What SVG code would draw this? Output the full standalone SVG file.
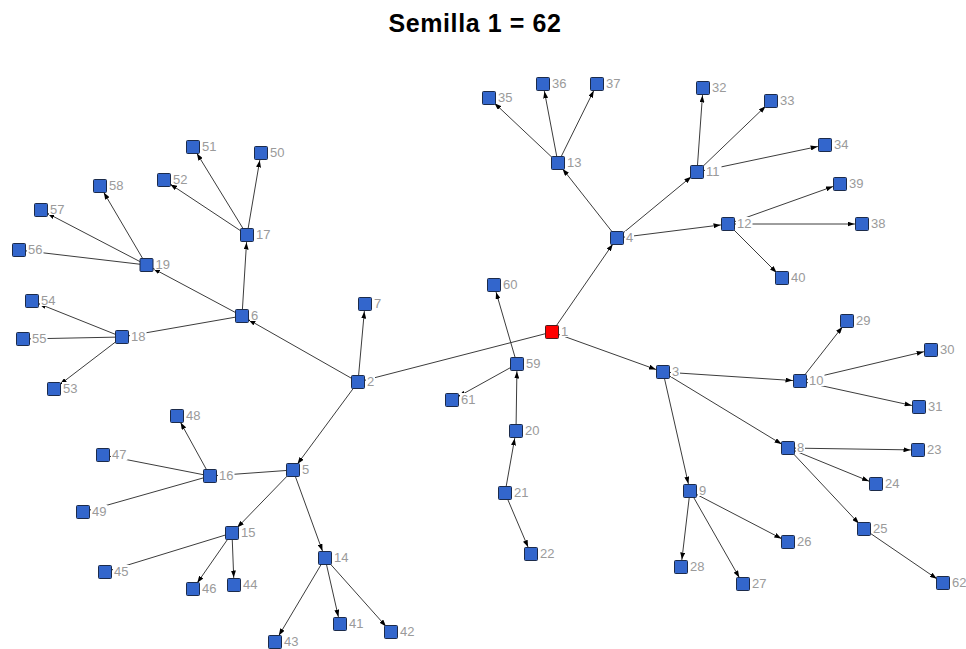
<svg xmlns="http://www.w3.org/2000/svg" width="966" height="649" viewBox="0 0 966 649">
<style>
  .title { font-family: "Liberation Sans", Arial, sans-serif; font-size: 25px; font-weight: bold; fill: #000; letter-spacing: 0.6px; }
  .edge { stroke: #3c3c3c; stroke-width: 1; fill: none; marker-end: url(#arrow); }
  .node rect.box { fill: #3366cc; stroke: #1c2b4a; stroke-width: 1; }
  .node.root rect.box { fill: #ff0000; stroke: #4a1c1c; }
  .node rect.lbg { fill: #ffffff; stroke: none; }
  .node text { font-family: "Liberation Sans", Arial, sans-serif; font-size: 13px; fill: #9a9a9a; }
</style>
<defs>
  <marker id="arrow" markerUnits="userSpaceOnUse" markerWidth="7" markerHeight="5" refX="14.5" refY="2.5" orient="auto">
    <path d="M0,0 L7,2.5 L0,5 z" fill="#000"/>
  </marker>
</defs>
<rect width="966" height="649" fill="#ffffff"/>
<text class="title" x="475" y="31.5" text-anchor="middle">Semilla 1 = 62</text>

<g id="edges">
  <line class="edge" x1="552" y1="332" x2="617" y2="238"/>
  <line class="edge" x1="552" y1="332" x2="663" y2="372"/>
  <line class="edge" x1="552" y1="332" x2="358" y2="382"/>
  <line class="edge" x1="358" y1="382" x2="242" y2="316"/>
  <line class="edge" x1="358" y1="382" x2="365" y2="304"/>
  <line class="edge" x1="358" y1="382" x2="293" y2="470"/>
  <line class="edge" x1="517" y1="364" x2="494" y2="285"/>
  <line class="edge" x1="517" y1="364" x2="452" y2="400"/>
  <line class="edge" x1="516" y1="431" x2="517" y2="364"/>
  <line class="edge" x1="505" y1="493" x2="516" y2="431"/>
  <line class="edge" x1="505" y1="493" x2="531" y2="554"/>
  <line class="edge" x1="617" y1="238" x2="558" y2="163"/>
  <line class="edge" x1="617" y1="238" x2="697" y2="172"/>
  <line class="edge" x1="617" y1="238" x2="728" y2="224"/>
  <line class="edge" x1="558" y1="163" x2="489" y2="98"/>
  <line class="edge" x1="558" y1="163" x2="543" y2="84"/>
  <line class="edge" x1="558" y1="163" x2="597" y2="84"/>
  <line class="edge" x1="697" y1="172" x2="703" y2="88"/>
  <line class="edge" x1="697" y1="172" x2="771" y2="101"/>
  <line class="edge" x1="697" y1="172" x2="825" y2="145"/>
  <line class="edge" x1="728" y1="224" x2="840" y2="184"/>
  <line class="edge" x1="728" y1="224" x2="862" y2="224"/>
  <line class="edge" x1="728" y1="224" x2="782" y2="278"/>
  <line class="edge" x1="663" y1="372" x2="800" y2="381"/>
  <line class="edge" x1="663" y1="372" x2="788" y2="448"/>
  <line class="edge" x1="663" y1="372" x2="690" y2="491"/>
  <line class="edge" x1="800" y1="381" x2="847" y2="321"/>
  <line class="edge" x1="800" y1="381" x2="931" y2="350"/>
  <line class="edge" x1="800" y1="381" x2="919" y2="407"/>
  <line class="edge" x1="788" y1="448" x2="918" y2="450"/>
  <line class="edge" x1="788" y1="448" x2="876" y2="484"/>
  <line class="edge" x1="788" y1="448" x2="864" y2="529"/>
  <line class="edge" x1="864" y1="529" x2="943" y2="583"/>
  <line class="edge" x1="690" y1="491" x2="788" y2="542"/>
  <line class="edge" x1="690" y1="491" x2="743" y2="584"/>
  <line class="edge" x1="690" y1="491" x2="681" y2="567"/>
  <line class="edge" x1="242" y1="316" x2="247" y2="235"/>
  <line class="edge" x1="242" y1="316" x2="146.5" y2="265"/>
  <line class="edge" x1="242" y1="316" x2="122" y2="337"/>
  <line class="edge" x1="247" y1="235" x2="261" y2="153"/>
  <line class="edge" x1="247" y1="235" x2="193" y2="147"/>
  <line class="edge" x1="247" y1="235" x2="164" y2="180"/>
  <line class="edge" x1="146.5" y1="265" x2="41" y2="210"/>
  <line class="edge" x1="146.5" y1="265" x2="100" y2="186"/>
  <line class="edge" x1="146.5" y1="265" x2="19" y2="250"/>
  <line class="edge" x1="122" y1="337" x2="32" y2="301"/>
  <line class="edge" x1="122" y1="337" x2="23" y2="339"/>
  <line class="edge" x1="122" y1="337" x2="54" y2="389"/>
  <line class="edge" x1="293" y1="470" x2="210" y2="476"/>
  <line class="edge" x1="293" y1="470" x2="232" y2="533"/>
  <line class="edge" x1="293" y1="470" x2="325" y2="558"/>
  <line class="edge" x1="210" y1="476" x2="177" y2="416"/>
  <line class="edge" x1="210" y1="476" x2="103" y2="455"/>
  <line class="edge" x1="210" y1="476" x2="83" y2="512"/>
  <line class="edge" x1="232" y1="533" x2="105" y2="572"/>
  <line class="edge" x1="232" y1="533" x2="193" y2="589"/>
  <line class="edge" x1="232" y1="533" x2="234" y2="585"/>
  <line class="edge" x1="325" y1="558" x2="275" y2="642"/>
  <line class="edge" x1="325" y1="558" x2="340" y2="624"/>
  <line class="edge" x1="325" y1="558" x2="391" y2="632"/>
</g>

<!-- each node: square marker, white label plate, number -->
<g id="n1" class="node root" transform="translate(552,332)"><rect class="box" x="-6.5" y="-6.5" width="13" height="13" rx="1"/><rect class="lbg" x="8" y="-7" width="9" height="12"/><text x="9" y="3.5">1</text></g>
<g id="n2" class="node" transform="translate(358,382)"><rect class="box" x="-6.5" y="-6.5" width="13" height="13" rx="1"/><rect class="lbg" x="8" y="-7" width="9" height="12"/><text x="9" y="3.5">2</text></g>
<g id="n3" class="node" transform="translate(663,372)"><rect class="box" x="-6.5" y="-6.5" width="13" height="13" rx="1"/><rect class="lbg" x="8" y="-7" width="9" height="12"/><text x="9" y="3.5">3</text></g>
<g id="n4" class="node" transform="translate(617,238)"><rect class="box" x="-6.5" y="-6.5" width="13" height="13" rx="1"/><rect class="lbg" x="8" y="-7" width="9" height="12"/><text x="9" y="3.5">4</text></g>
<g id="n5" class="node" transform="translate(293,470)"><rect class="box" x="-6.5" y="-6.5" width="13" height="13" rx="1"/><rect class="lbg" x="8" y="-7" width="9" height="12"/><text x="9" y="3.5">5</text></g>
<g id="n6" class="node" transform="translate(242,316)"><rect class="box" x="-6.5" y="-6.5" width="13" height="13" rx="1"/><rect class="lbg" x="8" y="-7" width="9" height="12"/><text x="9" y="3.5">6</text></g>
<g id="n7" class="node" transform="translate(365,304)"><rect class="box" x="-6.5" y="-6.5" width="13" height="13" rx="1"/><rect class="lbg" x="8" y="-7" width="9" height="12"/><text x="9" y="3.5">7</text></g>
<g id="n8" class="node" transform="translate(788,448)"><rect class="box" x="-6.5" y="-6.5" width="13" height="13" rx="1"/><rect class="lbg" x="8" y="-7" width="9" height="12"/><text x="9" y="3.5">8</text></g>
<g id="n9" class="node" transform="translate(690,491)"><rect class="box" x="-6.5" y="-6.5" width="13" height="13" rx="1"/><rect class="lbg" x="8" y="-7" width="9" height="12"/><text x="9" y="3.5">9</text></g>
<g id="n10" class="node" transform="translate(800,381)"><rect class="box" x="-6.5" y="-6.5" width="13" height="13" rx="1"/><rect class="lbg" x="8" y="-7" width="16.5" height="12"/><text x="9" y="3.5">10</text></g>
<g id="n11" class="node" transform="translate(697,172)"><rect class="box" x="-6.5" y="-6.5" width="13" height="13" rx="1"/><rect class="lbg" x="8" y="-7" width="16.5" height="12"/><text x="9" y="3.5">11</text></g>
<g id="n12" class="node" transform="translate(728,224)"><rect class="box" x="-6.5" y="-6.5" width="13" height="13" rx="1"/><rect class="lbg" x="8" y="-7" width="16.5" height="12"/><text x="9" y="3.5">12</text></g>
<g id="n13" class="node" transform="translate(558,163)"><rect class="box" x="-6.5" y="-6.5" width="13" height="13" rx="1"/><rect class="lbg" x="8" y="-7" width="16.5" height="12"/><text x="9" y="3.5">13</text></g>
<g id="n14" class="node" transform="translate(325,558)"><rect class="box" x="-6.5" y="-6.5" width="13" height="13" rx="1"/><rect class="lbg" x="8" y="-7" width="16.5" height="12"/><text x="9" y="3.5">14</text></g>
<g id="n15" class="node" transform="translate(232,533)"><rect class="box" x="-6.5" y="-6.5" width="13" height="13" rx="1"/><rect class="lbg" x="8" y="-7" width="16.5" height="12"/><text x="9" y="3.5">15</text></g>
<g id="n16" class="node" transform="translate(210,476)"><rect class="box" x="-6.5" y="-6.5" width="13" height="13" rx="1"/><rect class="lbg" x="8" y="-7" width="16.5" height="12"/><text x="9" y="3.5">16</text></g>
<g id="n17" class="node" transform="translate(247,235)"><rect class="box" x="-6.5" y="-6.5" width="13" height="13" rx="1"/><rect class="lbg" x="8" y="-7" width="16.5" height="12"/><text x="9" y="3.5">17</text></g>
<g id="n18" class="node" transform="translate(122,337)"><rect class="box" x="-6.5" y="-6.5" width="13" height="13" rx="1"/><rect class="lbg" x="8" y="-7" width="16.5" height="12"/><text x="9" y="3.5">18</text></g>
<g id="n19" class="node" transform="translate(146.5,265)"><rect class="box" x="-6.5" y="-6.5" width="13" height="13" rx="1"/><rect class="lbg" x="8" y="-7" width="16.5" height="12"/><text x="9" y="3.5">19</text></g>
<g id="n20" class="node" transform="translate(516,431)"><rect class="box" x="-6.5" y="-6.5" width="13" height="13" rx="1"/><rect class="lbg" x="8" y="-7" width="16.5" height="12"/><text x="9" y="3.5">20</text></g>
<g id="n21" class="node" transform="translate(505,493)"><rect class="box" x="-6.5" y="-6.5" width="13" height="13" rx="1"/><rect class="lbg" x="8" y="-7" width="16.5" height="12"/><text x="9" y="3.5">21</text></g>
<g id="n22" class="node" transform="translate(531,554)"><rect class="box" x="-6.5" y="-6.5" width="13" height="13" rx="1"/><rect class="lbg" x="8" y="-7" width="16.5" height="12"/><text x="9" y="3.5">22</text></g>
<g id="n23" class="node" transform="translate(918,450)"><rect class="box" x="-6.5" y="-6.5" width="13" height="13" rx="1"/><rect class="lbg" x="8" y="-7" width="16.5" height="12"/><text x="9" y="3.5">23</text></g>
<g id="n24" class="node" transform="translate(876,484)"><rect class="box" x="-6.5" y="-6.5" width="13" height="13" rx="1"/><rect class="lbg" x="8" y="-7" width="16.5" height="12"/><text x="9" y="3.5">24</text></g>
<g id="n25" class="node" transform="translate(864,529)"><rect class="box" x="-6.5" y="-6.5" width="13" height="13" rx="1"/><rect class="lbg" x="8" y="-7" width="16.5" height="12"/><text x="9" y="3.5">25</text></g>
<g id="n26" class="node" transform="translate(788,542)"><rect class="box" x="-6.5" y="-6.5" width="13" height="13" rx="1"/><rect class="lbg" x="8" y="-7" width="16.5" height="12"/><text x="9" y="3.5">26</text></g>
<g id="n27" class="node" transform="translate(743,584)"><rect class="box" x="-6.5" y="-6.5" width="13" height="13" rx="1"/><rect class="lbg" x="8" y="-7" width="16.5" height="12"/><text x="9" y="3.5">27</text></g>
<g id="n28" class="node" transform="translate(681,567)"><rect class="box" x="-6.5" y="-6.5" width="13" height="13" rx="1"/><rect class="lbg" x="8" y="-7" width="16.5" height="12"/><text x="9" y="3.5">28</text></g>
<g id="n29" class="node" transform="translate(847,321)"><rect class="box" x="-6.5" y="-6.5" width="13" height="13" rx="1"/><rect class="lbg" x="8" y="-7" width="16.5" height="12"/><text x="9" y="3.5">29</text></g>
<g id="n30" class="node" transform="translate(931,350)"><rect class="box" x="-6.5" y="-6.5" width="13" height="13" rx="1"/><rect class="lbg" x="8" y="-7" width="16.5" height="12"/><text x="9" y="3.5">30</text></g>
<g id="n31" class="node" transform="translate(919,407)"><rect class="box" x="-6.5" y="-6.5" width="13" height="13" rx="1"/><rect class="lbg" x="8" y="-7" width="16.5" height="12"/><text x="9" y="3.5">31</text></g>
<g id="n32" class="node" transform="translate(703,88)"><rect class="box" x="-6.5" y="-6.5" width="13" height="13" rx="1"/><rect class="lbg" x="8" y="-7" width="16.5" height="12"/><text x="9" y="3.5">32</text></g>
<g id="n33" class="node" transform="translate(771,101)"><rect class="box" x="-6.5" y="-6.5" width="13" height="13" rx="1"/><rect class="lbg" x="8" y="-7" width="16.5" height="12"/><text x="9" y="3.5">33</text></g>
<g id="n34" class="node" transform="translate(825,145)"><rect class="box" x="-6.5" y="-6.5" width="13" height="13" rx="1"/><rect class="lbg" x="8" y="-7" width="16.5" height="12"/><text x="9" y="3.5">34</text></g>
<g id="n35" class="node" transform="translate(489,98)"><rect class="box" x="-6.5" y="-6.5" width="13" height="13" rx="1"/><rect class="lbg" x="8" y="-7" width="16.5" height="12"/><text x="9" y="3.5">35</text></g>
<g id="n36" class="node" transform="translate(543,84)"><rect class="box" x="-6.5" y="-6.5" width="13" height="13" rx="1"/><rect class="lbg" x="8" y="-7" width="16.5" height="12"/><text x="9" y="3.5">36</text></g>
<g id="n37" class="node" transform="translate(597,84)"><rect class="box" x="-6.5" y="-6.5" width="13" height="13" rx="1"/><rect class="lbg" x="8" y="-7" width="16.5" height="12"/><text x="9" y="3.5">37</text></g>
<g id="n38" class="node" transform="translate(862,224)"><rect class="box" x="-6.5" y="-6.5" width="13" height="13" rx="1"/><rect class="lbg" x="8" y="-7" width="16.5" height="12"/><text x="9" y="3.5">38</text></g>
<g id="n39" class="node" transform="translate(840,184)"><rect class="box" x="-6.5" y="-6.5" width="13" height="13" rx="1"/><rect class="lbg" x="8" y="-7" width="16.5" height="12"/><text x="9" y="3.5">39</text></g>
<g id="n40" class="node" transform="translate(782,278)"><rect class="box" x="-6.5" y="-6.5" width="13" height="13" rx="1"/><rect class="lbg" x="8" y="-7" width="16.5" height="12"/><text x="9" y="3.5">40</text></g>
<g id="n41" class="node" transform="translate(340,624)"><rect class="box" x="-6.5" y="-6.5" width="13" height="13" rx="1"/><rect class="lbg" x="8" y="-7" width="16.5" height="12"/><text x="9" y="3.5">41</text></g>
<g id="n42" class="node" transform="translate(391,632)"><rect class="box" x="-6.5" y="-6.5" width="13" height="13" rx="1"/><rect class="lbg" x="8" y="-7" width="16.5" height="12"/><text x="9" y="3.5">42</text></g>
<g id="n43" class="node" transform="translate(275,642)"><rect class="box" x="-6.5" y="-6.5" width="13" height="13" rx="1"/><rect class="lbg" x="8" y="-7" width="16.5" height="12"/><text x="9" y="3.5">43</text></g>
<g id="n44" class="node" transform="translate(234,585)"><rect class="box" x="-6.5" y="-6.5" width="13" height="13" rx="1"/><rect class="lbg" x="8" y="-7" width="16.5" height="12"/><text x="9" y="3.5">44</text></g>
<g id="n45" class="node" transform="translate(105,572)"><rect class="box" x="-6.5" y="-6.5" width="13" height="13" rx="1"/><rect class="lbg" x="8" y="-7" width="16.5" height="12"/><text x="9" y="3.5">45</text></g>
<g id="n46" class="node" transform="translate(193,589)"><rect class="box" x="-6.5" y="-6.5" width="13" height="13" rx="1"/><rect class="lbg" x="8" y="-7" width="16.5" height="12"/><text x="9" y="3.5">46</text></g>
<g id="n47" class="node" transform="translate(103,455)"><rect class="box" x="-6.5" y="-6.5" width="13" height="13" rx="1"/><rect class="lbg" x="8" y="-7" width="16.5" height="12"/><text x="9" y="3.5">47</text></g>
<g id="n48" class="node" transform="translate(177,416)"><rect class="box" x="-6.5" y="-6.5" width="13" height="13" rx="1"/><rect class="lbg" x="8" y="-7" width="16.5" height="12"/><text x="9" y="3.5">48</text></g>
<g id="n49" class="node" transform="translate(83,512)"><rect class="box" x="-6.5" y="-6.5" width="13" height="13" rx="1"/><rect class="lbg" x="8" y="-7" width="16.5" height="12"/><text x="9" y="3.5">49</text></g>
<g id="n50" class="node" transform="translate(261,153)"><rect class="box" x="-6.5" y="-6.5" width="13" height="13" rx="1"/><rect class="lbg" x="8" y="-7" width="16.5" height="12"/><text x="9" y="3.5">50</text></g>
<g id="n51" class="node" transform="translate(193,147)"><rect class="box" x="-6.5" y="-6.5" width="13" height="13" rx="1"/><rect class="lbg" x="8" y="-7" width="16.5" height="12"/><text x="9" y="3.5">51</text></g>
<g id="n52" class="node" transform="translate(164,180)"><rect class="box" x="-6.5" y="-6.5" width="13" height="13" rx="1"/><rect class="lbg" x="8" y="-7" width="16.5" height="12"/><text x="9" y="3.5">52</text></g>
<g id="n53" class="node" transform="translate(54,389)"><rect class="box" x="-6.5" y="-6.5" width="13" height="13" rx="1"/><rect class="lbg" x="8" y="-7" width="16.5" height="12"/><text x="9" y="3.5">53</text></g>
<g id="n54" class="node" transform="translate(32,301)"><rect class="box" x="-6.5" y="-6.5" width="13" height="13" rx="1"/><rect class="lbg" x="8" y="-7" width="16.5" height="12"/><text x="9" y="3.5">54</text></g>
<g id="n55" class="node" transform="translate(23,339)"><rect class="box" x="-6.5" y="-6.5" width="13" height="13" rx="1"/><rect class="lbg" x="8" y="-7" width="16.5" height="12"/><text x="9" y="3.5">55</text></g>
<g id="n56" class="node" transform="translate(19,250)"><rect class="box" x="-6.5" y="-6.5" width="13" height="13" rx="1"/><rect class="lbg" x="8" y="-7" width="16.5" height="12"/><text x="9" y="3.5">56</text></g>
<g id="n57" class="node" transform="translate(41,210)"><rect class="box" x="-6.5" y="-6.5" width="13" height="13" rx="1"/><rect class="lbg" x="8" y="-7" width="16.5" height="12"/><text x="9" y="3.5">57</text></g>
<g id="n58" class="node" transform="translate(100,186)"><rect class="box" x="-6.5" y="-6.5" width="13" height="13" rx="1"/><rect class="lbg" x="8" y="-7" width="16.5" height="12"/><text x="9" y="3.5">58</text></g>
<g id="n59" class="node" transform="translate(517,364)"><rect class="box" x="-6.5" y="-6.5" width="13" height="13" rx="1"/><rect class="lbg" x="8" y="-7" width="16.5" height="12"/><text x="9" y="3.5">59</text></g>
<g id="n60" class="node" transform="translate(494,285)"><rect class="box" x="-6.5" y="-6.5" width="13" height="13" rx="1"/><rect class="lbg" x="8" y="-7" width="16.5" height="12"/><text x="9" y="3.5">60</text></g>
<g id="n61" class="node" transform="translate(452,400)"><rect class="box" x="-6.5" y="-6.5" width="13" height="13" rx="1"/><rect class="lbg" x="8" y="-7" width="16.5" height="12"/><text x="9" y="3.5">61</text></g>
<g id="n62" class="node" transform="translate(943,583)"><rect class="box" x="-6.5" y="-6.5" width="13" height="13" rx="1"/><rect class="lbg" x="8" y="-7" width="16.5" height="12"/><text x="9" y="3.5">62</text></g>
</svg>
